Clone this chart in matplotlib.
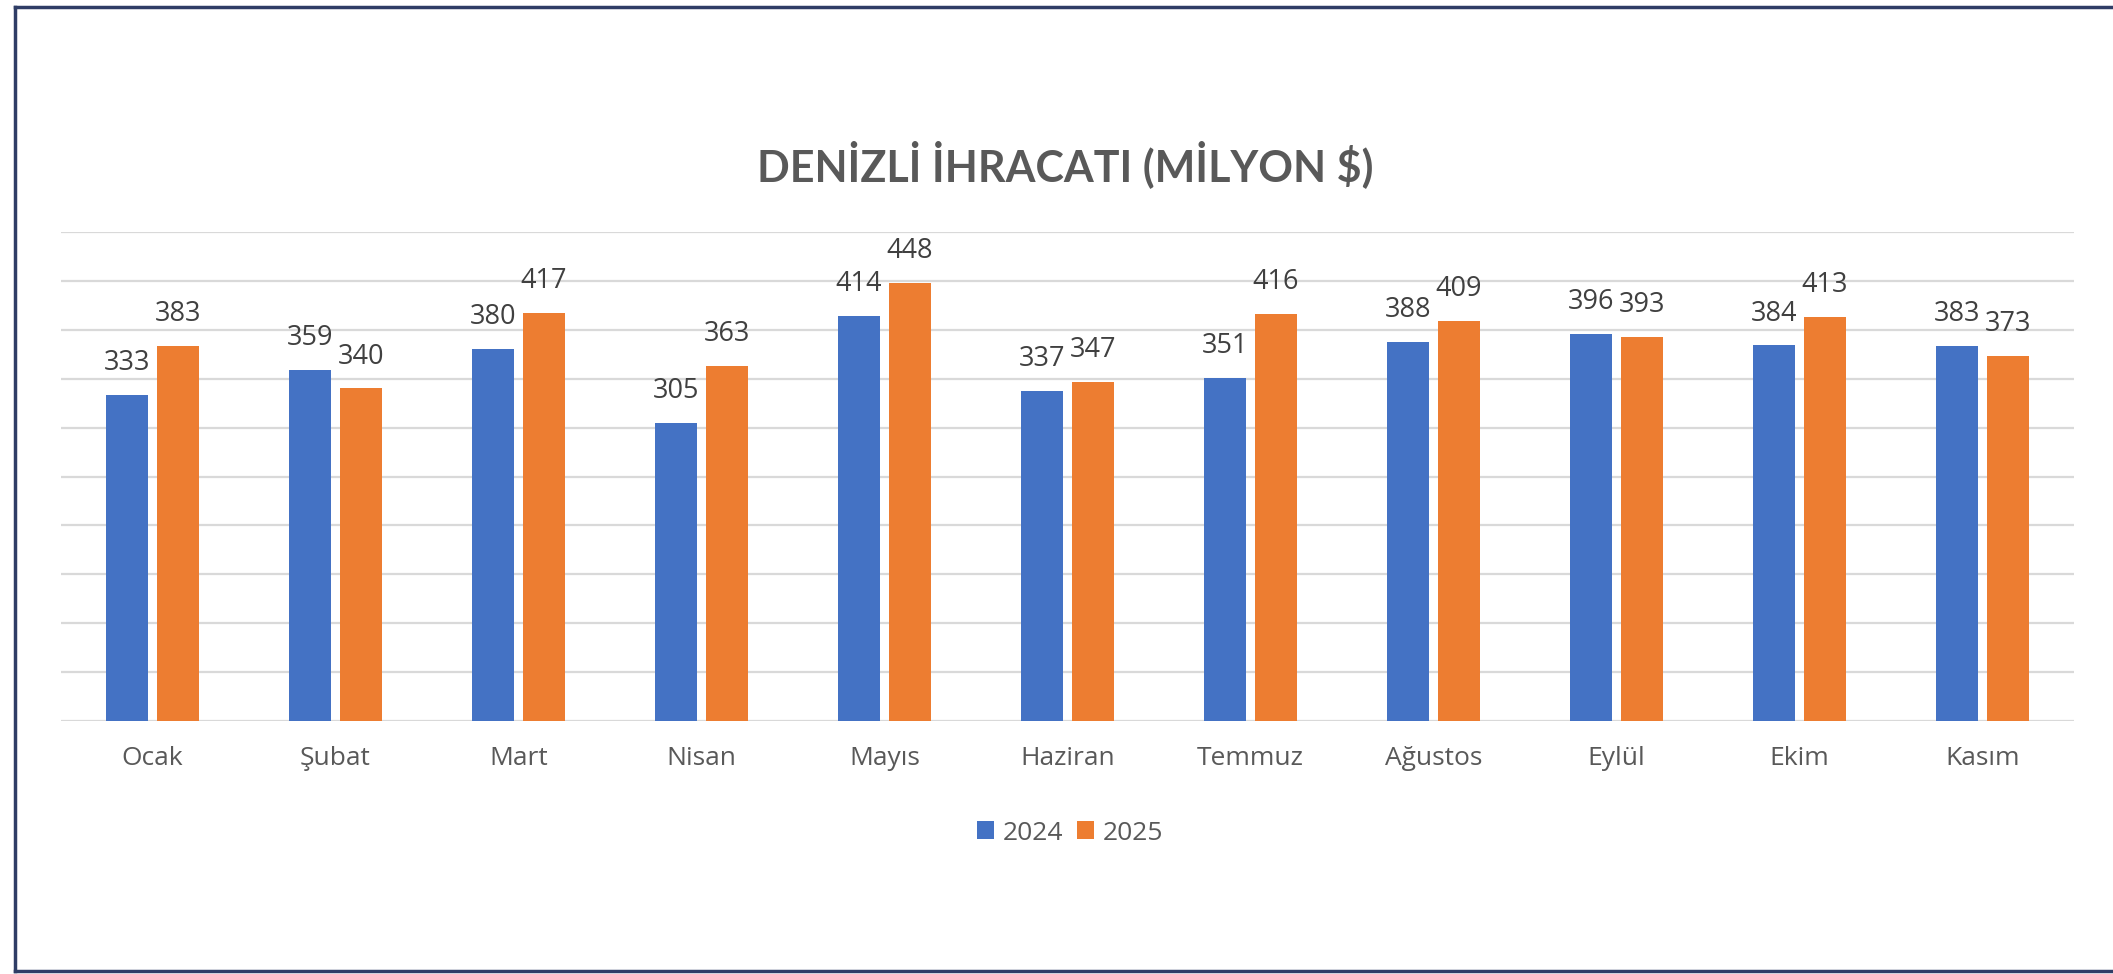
import matplotlib
matplotlib.use("Agg")
import matplotlib.pyplot as plt
from matplotlib.lines import Line2D
from matplotlib.patches import Patch
import numpy as np

months = ["Ocak", "Şubat", "Mart", "Nisan", "Mayıs", "Haziran", "Temmuz",
          "Ağustos", "Eylül", "Ekim", "Kasım"]
values_2024 = [333, 359, 380, 305, 414, 337, 351, 388, 396, 384, 383]
values_2025 = [383, 340, 417, 363, 448, 347, 416, 409, 393, 413, 373]
series_names = ["2024", "2025"]
title = "DENİZLİ İHRACATI (MİLYON $)"

W, H = 2113, 974
DPI = 100
fig = plt.figure(figsize=(W / DPI, H / DPI), dpi=DPI)
fig.patch.set_facecolor("white")

BLUE = "#4472C4"
ORANGE = "#ED7D31"
GRID = "#D9D9D9"
TXT = "#595959"
LBL = "#404040"
FONT = ["Open Sans", "DejaVu Sans"]

# plot area in pixels
left_px, right_px = 61, 2074
base_px, top_px = 721, 232
ax = fig.add_axes([left_px / W, 1 - base_px / H,
                   (right_px - left_px) / W, (base_px - top_px) / H])
ax.set_facecolor("none")

x = np.arange(len(months))
bw = 0.228
off = 0.139
b1 = ax.bar(x - off, values_2024, bw, color=BLUE, zorder=3)
b2 = ax.bar(x + off, values_2025, bw, color=ORANGE, zorder=3)

ax.set_xlim(-0.5, len(months) - 0.5)
ax.set_ylim(0, 500)
ax.set_yticks(np.arange(0, 501, 50))
ax.yaxis.grid(True, color=GRID, linewidth=1.6, zorder=0)
ax.set_axisbelow(True)
for s in ax.spines.values():
    s.set_visible(False)
ax.tick_params(axis="y", left=False, labelleft=False)
ax.set_xticks(x)
ax.set_xticklabels(months, fontfamily=FONT, fontsize=19, color=TXT)
ax.tick_params(axis="x", length=0, pad=18)

for bars, vals in ((b1, values_2024), (b2, values_2025)):
    for rect, v in zip(bars, vals):
        ax.annotate(f"{v}", (rect.get_x() + rect.get_width() / 2, v),
                    xytext=(0, 23), textcoords="offset points",
                    ha="center", va="center", fontsize=19.5,
                    fontfamily=FONT, color=LBL, zorder=4)

fig.text(1065 / W, 1 - 164 / H, title, ha="center", va="center",
         fontsize=31, fontweight="bold", fontfamily=["Lato", "DejaVu Sans"],
         color=TXT)

handles = [Patch(facecolor=BLUE, edgecolor="none"),
           Patch(facecolor=ORANGE, edgecolor="none")]
leg = fig.legend(handles, series_names, loc="center",
                 bbox_to_anchor=(1070 / W, 1 - 833 / H), ncol=2,
                 frameon=False, handlelength=0.65, handleheight=0.65,
                 handletextpad=0.35, columnspacing=0.5,
                 prop={"family": FONT, "size": 19})
for t in leg.get_texts():
    t.set_color(TXT)

# outer frame (top, bottom, left lines)
NAVY = "#2F3D66"
y_top = 1 - 7 / H
y_bot = 1 - 971 / H
x_l = 15 / W
fig.add_artist(Line2D([x_l, 1], [y_top, y_top], color=NAVY, linewidth=2.5,
                      transform=fig.transFigure))
fig.add_artist(Line2D([x_l, 1], [y_bot, y_bot], color=NAVY, linewidth=2.5,
                      transform=fig.transFigure))
fig.add_artist(Line2D([x_l, x_l], [y_top, y_bot], color=NAVY, linewidth=2.5,
                      transform=fig.transFigure))

fig.savefig("out.png", dpi=DPI, facecolor="white")
